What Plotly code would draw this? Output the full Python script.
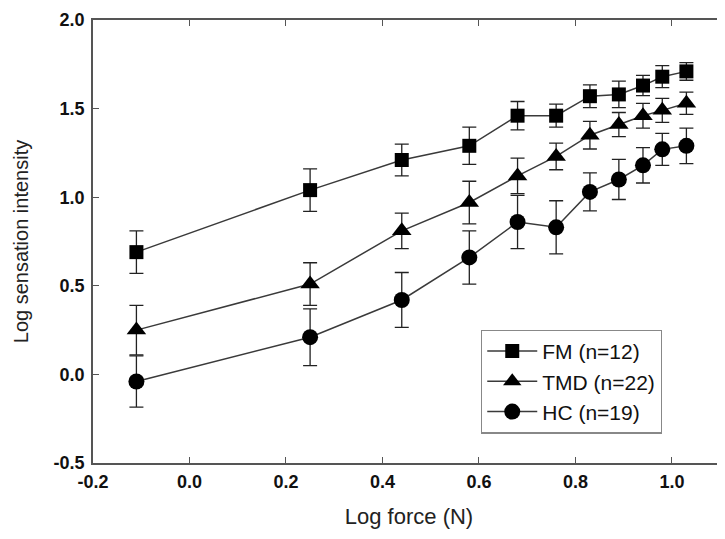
import plotly.graph_objects as go

# log force (N) for each stimulus level
log_force = [-0.11, 0.25, 0.44, 0.58, 0.68, 0.76, 0.83, 0.89, 0.94, 0.98, 1.03]

# mean log sensation intensity and error (+/-)
fm = [0.69, 1.04, 1.21, 1.29, 1.46, 1.46, 1.57, 1.58, 1.63, 1.68, 1.71]
fm_err = [0.12, 0.12, 0.09, 0.105, 0.08, 0.065, 0.064, 0.075, 0.057, 0.062, 0.05]

tmd = [0.25, 0.51, 0.81, 0.97, 1.12, 1.23, 1.35, 1.41, 1.46, 1.49, 1.53]
tmd_err = [0.14, 0.12, 0.10, 0.12, 0.10, 0.075, 0.078, 0.068, 0.07, 0.068, 0.063]

hc = [-0.04, 0.21, 0.42, 0.66, 0.86, 0.83, 1.03, 1.10, 1.18, 1.27, 1.29]
hc_err = [0.145, 0.16, 0.155, 0.15, 0.15, 0.15, 0.107, 0.113, 0.10, 0.09, 0.10]

names = ["FM (n=12)", "TMD (n=22)", "HC (n=19)"]

xtick_vals = [-0.2, 0.0, 0.2, 0.4, 0.6, 0.8, 1.0]
xtick_text = ["-0.2", "0.0", "0.2", "0.4", "0.6", "0.8", "1.0"]
ytick_vals = [-0.5, 0.0, 0.5, 1.0, 1.5, 2.0]
ytick_text = ["-0.5", "0.0", "0.5", "1.0", "1.5", "2.0"]

font = "Liberation Sans, Arial, sans-serif"

fig = go.Figure()
for y, err, name, sym, size in [
    (fm, fm_err, names[0], "square", 14),
    (tmd, tmd_err, names[1], "triangle-up", 17),
    (hc, hc_err, names[2], "circle", 16),
]:
    fig.add_trace(go.Scatter(
        x=log_force, y=y, name=name, mode="lines+markers",
        line=dict(color="#3a3a3a", width=1.5),
        marker=dict(symbol=sym, size=size, color="black"),
        error_y=dict(type="data", array=err, visible=True,
                     color="#222222", thickness=1.3, width=7),
    ))

axis_common = dict(
    showline=True, linecolor="#555555", linewidth=1.5, mirror="ticks",
    ticks="inside", ticklen=6, tickcolor="#555555", tickwidth=1.2,
    showgrid=False, zeroline=False, automargin=False,
    tickfont=dict(family=font, size=18, color="#111111", weight="bold"),
)

fig.update_xaxes(range=[-0.2, 1.11], tickvals=xtick_vals, ticktext=xtick_text,
                 ticklabelstandoff=2,
                 title=dict(text="Log force (N)", font=dict(family=font, size=22, color="#222222"),
                            standoff=17),
                 **axis_common)
fig.update_yaxes(range=[-0.5, 2.0], tickvals=ytick_vals, ticktext=ytick_text,
                 ticklabelstandoff=3,
                 title=dict(text="Log sensation intensity", font=dict(family=font, size=20, color="#222222"),
                            standoff=20),
                 **axis_common)

fig.update_layout(
    width=725, height=539,
    margin=dict(l=85, r=8, t=12, b=84),
    plot_bgcolor="white", paper_bgcolor="white",
    legend=dict(x=0.614, y=0.301, xanchor="left", yanchor="top",
                bgcolor="white", bordercolor="#888888", borderwidth=1.2,
                font=dict(family=font, size=21, color="#111111"),
                itemwidth=50, tracegroupgap=0),
)

fig.write_html("out.html")
